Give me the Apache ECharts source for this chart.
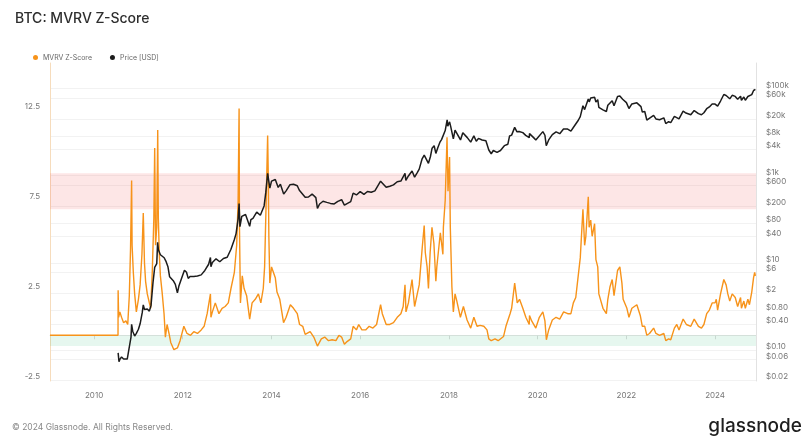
<!DOCTYPE html>
<html><head><meta charset="utf-8">
<script src="https://cdn.jsdelivr.net/npm/echarts@6/dist/echarts.min.js"></script>
<style>html,body{margin:0;padding:0;background:#fff}#c{width:809px;height:444px}</style>
</head><body><div id="c"></div>
<script>
// ---- data ----
const zDates = ['2009-01-03','2010-07-17','2010-07-18','2010-07-22','2010-08-01','2010-08-15','2010-09-01','2010-09-20','2010-10-05','2010-10-18','2010-10-28','2010-11-06','2010-11-10','2010-11-20','2010-12-01','2010-12-15','2011-01-01','2011-01-15','2011-01-30','2011-02-10','2011-02-20','2011-03-01','2011-03-15','2011-04-01','2011-04-12','2011-04-25','2011-05-08','2011-05-15','2011-05-22','2011-06-01','2011-06-09','2011-06-14','2011-06-22','2011-07-01','2011-07-15','2011-07-31','2011-08-11','2011-08-25','2011-09-10','2011-09-24','2011-10-20','2011-11-18','2011-12-10','2012-01-10','2012-02-05','2012-03-05','2012-04-01','2012-05-01','2012-06-01','2012-06-25','2012-07-20','2012-08-16','2012-08-20','2012-09-01','2012-09-25','2012-10-25','2012-11-20','2012-12-15','2013-01-10','2013-02-01','2013-03-01','2013-03-20','2013-04-01','2013-04-09','2013-04-12','2013-04-20','2013-05-05','2013-05-20','2013-06-10','2013-07-05','2013-07-25','2013-08-20','2013-09-15','2013-10-05','2013-10-25','2013-11-05','2013-11-18','2013-11-30','2013-12-05','2013-12-10','2013-12-18','2014-01-01','2014-01-12','2014-02-01','2014-02-15','2014-03-10','2014-04-10','2014-05-01','2014-06-05','2014-07-01','2014-08-01','2014-08-20','2014-09-15','2014-10-05','2014-11-15','2014-12-15','2015-01-14','2015-02-15','2015-03-15','2015-04-15','2015-05-15','2015-06-15','2015-07-10','2015-08-01','2015-08-24','2015-09-15','2015-10-15','2015-11-04','2015-12-01','2015-12-20','2016-01-15','2016-02-15','2016-03-15','2016-04-15','2016-05-15','2016-06-17','2016-07-01','2016-08-02','2016-09-01','2016-10-01','2016-11-01','2016-12-01','2016-12-20','2017-01-04','2017-01-12','2017-02-01','2017-03-03','2017-03-24','2017-04-15','2017-05-01','2017-05-25','2017-06-11','2017-06-20','2017-07-05','2017-07-16','2017-07-30','2017-08-14','2017-08-30','2017-09-15','2017-09-23','2017-10-22','2017-11-12','2017-11-16','2017-12-01','2017-12-16','2017-12-24','2018-01-06','2018-01-12','2018-01-25','2018-02-06','2018-02-20','2018-03-05','2018-04-05','2018-04-30','2018-05-30','2018-06-29','2018-07-25','2018-08-20','2018-09-15','2018-10-15','2018-11-10','2018-11-25','2018-12-15','2019-01-15','2019-02-10','2019-03-26','2019-04-15','2019-05-19','2019-06-01','2019-06-26','2019-07-17','2019-08-05','2019-09-01','2019-09-26','2019-10-24','2019-10-26','2019-11-13','2019-12-17','2020-01-15','2020-02-13','2020-03-01','2020-03-13','2020-04-01','2020-05-01','2020-06-01','2020-07-01','2020-08-02','2020-09-05','2020-10-01','2020-10-21','2020-11-10','2020-11-25','2020-12-17','2021-01-08','2021-01-22','2021-02-01','2021-02-21','2021-02-28','2021-03-13','2021-03-25','2021-04-14','2021-04-25','2021-05-10','2021-05-19','2021-06-01','2021-06-22','2021-07-20','2021-08-01','2021-08-19','2021-09-06','2021-09-21','2021-10-20','2021-11-08','2021-11-25','2021-12-05','2022-01-05','2022-01-22','2022-02-15','2022-03-28','2022-04-25','2022-05-12','2022-06-01','2022-06-18','2022-07-10','2022-08-13','2022-09-01','2022-10-01','2022-11-05','2022-11-21','2022-12-15','2023-01-01','2023-01-31','2023-02-20','2023-03-10','2023-04-13','2023-05-10','2023-06-15','2023-07-13','2023-08-17','2023-09-11','2023-10-01','2023-10-24','2023-11-15','2023-12-08','2024-01-01','2024-01-11','2024-01-22','2024-02-15','2024-03-13','2024-04-01','2024-04-15','2024-05-01','2024-05-21','2024-06-15','2024-07-05','2024-07-29','2024-08-05','2024-08-25','2024-09-06','2024-09-27','2024-10-10','2024-10-29','2024-11-06','2024-11-13','2024-11-22','2024-11-28'];
const zValues = [0,0,2.5,1.0,1.3,1.0,0.7,0.8,0.6,2.2,4.8,8.6,5.0,3.5,2.3,1.3,2.0,2.8,4.5,6.8,4.0,3.0,2.3,1.8,1.5,3.5,6.5,10.4,5.0,6.0,11.4,6.5,4.5,3.3,2.4,1.2,-0.1,0.6,0.1,-0.4,-0.8,-0.7,-0.3,0.5,0.1,0.0,0.2,0.1,0.3,0.5,1.2,2.3,1.0,1.3,1.8,1.2,1.5,1.6,1.8,2.6,3.5,5.0,7.5,12.6,6.0,1.8,3.3,2.6,2.2,0.9,1.8,2.0,2.3,1.8,2.6,3.8,7.5,11.1,9.0,5.5,2.9,3.8,3.9,3.2,2.4,2.0,0.7,1.0,1.7,1.5,1.2,0.6,0.5,0.05,0.2,-0.1,-0.6,-0.2,-0.1,-0.3,-0.25,-0.3,0.0,-0.1,-0.5,-0.35,-0.2,0.5,0.3,0.6,0.3,0.3,0.5,0.4,0.6,1.7,1.2,0.6,0.6,0.7,1.0,1.2,1.6,2.8,1.3,1.8,3.1,1.6,2.3,2.8,4.8,6.1,4.6,3.8,2.6,4.6,6.0,5.1,3.0,3.8,5.7,4.5,6.0,7.5,11.0,8.0,9.9,6.0,2.7,1.3,2.3,1.95,1.0,1.6,0.85,0.4,1.0,0.5,0.55,0.5,0.3,-0.2,-0.3,-0.2,-0.3,-0.07,0.5,1.2,1.5,2.9,1.8,2.0,1.5,1.0,0.6,1.1,0.8,0.4,1.0,1.3,0.8,-0.25,0.3,0.85,1.0,0.9,1.3,1.2,1.2,1.8,2.1,3.0,4.3,7.0,5.0,5.5,7.7,6.0,6.4,5.5,6.2,4.2,3.8,2.3,2.3,1.5,1.2,2.0,2.7,3.1,2.2,3.6,3.8,2.9,2.0,1.5,1.0,1.5,1.7,1.1,0.5,0.5,0.0,0.1,0.4,0.1,0.0,0.1,-0.3,-0.2,-0.25,0.4,0.6,0.3,0.9,0.6,0.5,0.9,0.5,0.4,0.6,1.2,1.4,1.8,1.8,2.0,1.4,2.3,3.1,2.8,2.3,1.9,2.3,2.1,1.6,2.1,1.5,1.9,1.5,2.0,1.7,2.4,2.5,3.2,3.5,3.3];

const priceDates = ['2010-07-18','2010-07-25','2010-08-01','2010-08-15','2010-09-01','2010-09-15','2010-10-01','2010-10-15','2010-11-01','2010-11-06','2010-11-15','2010-12-01','2010-12-15','2011-01-01','2011-01-15','2011-02-01','2011-02-10','2011-02-20','2011-03-01','2011-03-15','2011-04-01','2011-04-15','2011-05-01','2011-05-15','2011-06-01','2011-06-08','2011-06-15','2011-07-01','2011-07-15','2011-08-01','2011-08-15','2011-09-01','2011-09-15','2011-10-01','2011-10-15','2011-11-01','2011-11-18','2011-12-01','2011-12-15','2012-01-01','2012-01-15','2012-02-01','2012-02-15','2012-03-01','2012-04-01','2012-05-01','2012-06-01','2012-07-01','2012-08-01','2012-08-16','2012-08-20','2012-09-01','2012-10-01','2012-11-01','2012-12-01','2013-01-01','2013-02-01','2013-03-01','2013-03-15','2013-04-01','2013-04-09','2013-04-16','2013-05-01','2013-06-01','2013-07-05','2013-07-15','2013-08-01','2013-09-01','2013-10-01','2013-10-15','2013-11-01','2013-11-15','2013-11-30','2013-12-18','2014-01-01','2014-01-15','2014-02-01','2014-02-25','2014-03-15','2014-04-11','2014-05-01','2014-06-01','2014-07-01','2014-08-01','2014-08-18','2014-09-01','2014-10-05','2014-11-01','2014-12-01','2015-01-01','2015-01-14','2015-02-01','2015-03-01','2015-04-01','2015-05-01','2015-06-01','2015-07-01','2015-08-01','2015-08-24','2015-09-15','2015-10-15','2015-11-04','2015-12-01','2016-01-01','2016-02-01','2016-03-01','2016-04-01','2016-05-01','2016-06-17','2016-07-01','2016-08-02','2016-09-01','2016-10-01','2016-11-01','2016-12-01','2017-01-04','2017-01-11','2017-02-01','2017-03-03','2017-03-24','2017-04-15','2017-05-01','2017-05-25','2017-06-11','2017-07-16','2017-08-01','2017-08-15','2017-09-01','2017-09-15','2017-10-01','2017-10-20','2017-11-01','2017-11-15','2017-12-01','2017-12-17','2017-12-22','2018-01-06','2018-01-15','2018-02-06','2018-02-20','2018-03-05','2018-04-06','2018-04-25','2018-05-05','2018-06-01','2018-06-29','2018-07-25','2018-08-14','2018-09-01','2018-10-01','2018-11-01','2018-11-25','2018-12-15','2019-01-01','2019-02-01','2019-03-01','2019-04-02','2019-05-01','2019-05-15','2019-06-01','2019-06-26','2019-07-15','2019-08-01','2019-09-01','2019-09-25','2019-10-24','2019-10-26','2019-11-01','2019-12-01','2019-12-17','2020-01-01','2020-02-13','2020-03-01','2020-03-12','2020-04-01','2020-05-01','2020-06-01','2020-07-01','2020-08-01','2020-09-01','2020-10-01','2020-10-21','2020-11-01','2020-12-01','2020-12-17','2021-01-08','2021-01-22','2021-02-01','2021-02-21','2021-03-01','2021-03-13','2021-04-14','2021-04-25','2021-05-10','2021-05-19','2021-06-01','2021-06-22','2021-07-20','2021-08-01','2021-09-06','2021-09-21','2021-10-20','2021-11-08','2021-12-01','2022-01-01','2022-01-22','2022-02-15','2022-03-28','2022-05-01','2022-05-12','2022-06-01','2022-06-18','2022-07-01','2022-08-13','2022-09-01','2022-10-01','2022-11-05','2022-11-21','2022-12-15','2023-01-01','2023-01-31','2023-03-10','2023-04-13','2023-05-01','2023-06-15','2023-07-13','2023-08-17','2023-09-11','2023-10-01','2023-10-24','2023-11-15','2023-12-08','2024-01-01','2024-01-11','2024-01-22','2024-02-15','2024-03-13','2024-04-01','2024-05-01','2024-05-21','2024-06-15','2024-07-05','2024-07-29','2024-08-05','2024-08-25','2024-09-06','2024-09-27','2024-10-10','2024-10-29','2024-11-06','2024-11-13','2024-11-22','2024-11-28'];
const priceValues = [0.086,0.054,0.061,0.069,0.062,0.062,0.062,0.105,0.197,0.39,0.27,0.21,0.24,0.30,0.40,0.71,1.09,0.85,0.92,0.87,0.78,1.07,3.5,7.9,9.6,29.6,19.7,15.4,13.9,13.1,11.0,8.2,4.8,5.0,3.9,3.2,2.05,3.0,3.2,5.3,6.8,6.1,4.4,4.9,4.9,5.0,5.3,6.7,9.3,13.3,8.2,10.2,12.4,10.6,12.6,13.5,20.5,34.5,47,104,230,68,117,129,69,98,105,146,124,155,203,420,1130,520,750,820,820,540,640,380,450,620,640,590,465,475,320,325,380,315,178,225,260,245,232,225,258,282,211,230,255,400,362,433,373,435,417,450,750,675,545,573,616,730,755,1130,780,990,1280,930,1180,1420,2450,2960,1930,2730,4300,4890,3250,4400,6000,6750,7300,10900,19100,13800,17200,13600,7000,11200,11500,6630,9700,9800,7500,5900,8200,6200,7200,6600,6350,3900,3200,3800,3450,3800,4900,5300,8200,8550,12900,10200,10400,9760,8440,7450,9250,9150,7400,6640,7200,10300,8500,4900,6640,8800,10200,9230,11800,11900,10600,12800,13750,18800,22800,40500,33000,33500,57500,49600,61200,63500,49000,56000,37000,36600,32500,29800,41500,52700,40600,66000,67500,57000,47700,35000,44500,47100,38500,29000,29800,19000,19300,24400,20100,19300,21300,15800,17400,16600,23100,20200,30400,28000,25100,31400,26600,25100,27900,34500,37900,44200,44200,46300,39500,51900,73100,69700,58300,70100,66200,56700,66800,54000,64200,53900,65800,60500,72700,75600,90400,98900,95600];

const yearTicks = ['2010-01-01','2012-01-01','2014-01-01','2016-01-01','2018-01-01','2020-01-01','2022-01-01','2024-01-01'];
const zTicks = [-2.5, 2.5, 7.5, 12.5];
const priceTicks = [0.02,0.06,0.1,0.4,0.8,2,6,10,40,80,200,600,1000,4000,8000,20000,60000,100000];
const redBand = [7, 9];
const greenBand = [-0.6, 0];

// ---- chart ----
const font = 'Inter, "Noto Sans", sans-serif';
const chart = echarts.init(document.getElementById('c'), null, {renderer: 'canvas'});
const ts = d => Date.parse(d + 'T00:00:00Z');
const zData = zDates.map((d, i) => [ts(d), zValues[i]]);
const pData = priceDates.map((d, i) => [ts(d), priceValues[i]]);
const yearTickTs = yearTicks.map(ts);
function fmtPrice(v) {
  if (v >= 1000) return '$' + Math.round(v / 1000) + 'k';
  if (v >= 1) return '$' + Math.round(v);
  return '$' + v.toFixed(2);
}
chart.setOption({
  animation: false,
  textStyle: {fontFamily: font},
  title: {text: 'BTC: MVRV Z-Score', left: 10, top: 7,
    textStyle: {fontSize: 14, fontWeight: 500, color: '#2e2e2e', fontFamily: font}},
  legend: {left: 28, top: 49, icon: 'circle', itemWidth: 5, itemHeight: 5, itemGap: 18,
    textStyle: {fontSize: 7, color: '#666', fontFamily: font},
    data: ['MVRV Z-Score', 'Price [USD]']},
  grid: {left: 50, right: 53, top: 63, bottom: 63},
  xAxis: {type: 'value', min: ts('2009-01-03'), max: ts('2024-12-03'),
    axisLine: {show: true, lineStyle: {color: '#e4e4e4'}},
    axisTick: {show: true, customValues: yearTickTs, length: 4, lineStyle: {color: '#dcdcdc'}},
    axisLabel: {customValues: yearTickTs, formatter: v => String(new Date(v).getUTCFullYear()),
      fontSize: 8, color: '#777', margin: 11, fontFamily: font},
    splitLine: {show: false}},
  yAxis: [
    {type: 'value', position: 'left', min: -2.54, max: 15.13,
      axisLine: {show: true, lineStyle: {color: '#f6dcbc'}},
      axisTick: {show: false}, splitLine: {show: false},
      axisLabel: {customValues: zTicks, formatter: v => String(v), fontSize: 8, color: '#777',
        margin: 10, verticalAlign: 'bottom', lineHeight: 7, fontFamily: font}},
    {type: 'log', logBase: 10, position: 'right', min: 0.01945, max: 387000,
      axisLine: {show: true, lineStyle: {color: '#e2e2e2'}},
      axisTick: {show: false, customValues: priceTicks},
      splitLine: {show: true, lineStyle: {color: '#f2f2f2', width: 1}},
      axisLabel: {customValues: priceTicks, formatter: fmtPrice, fontSize: 8, color: '#777',
        margin: 10, verticalAlign: 'bottom', lineHeight: 7, fontFamily: font}}
  ],
  series: [
    {name: 'MVRV Z-Score', type: 'line', yAxisIndex: 0, data: zData, showSymbol: false, symbol: 'none',
      lineStyle: {color: '#f7931a', width: 1.4}, itemStyle: {color: '#f7931a'},
      markArea: {silent: true, data: [
        [{yAxis: redBand[0], itemStyle: {color: 'rgba(240,90,90,0.15)'}}, {yAxis: redBand[1]}],
        [{yAxis: greenBand[0], itemStyle: {color: 'rgba(60,190,130,0.13)'}}, {yAxis: greenBand[1]}]
      ]}},
    {name: 'Price [USD]', type: 'line', yAxisIndex: 1, data: pData, showSymbol: false, symbol: 'none',
      lineStyle: {color: '#1c1c1c', width: 1.5}, itemStyle: {color: '#1c1c1c'}}
  ],
  graphic: [
    {type: 'text', left: 12, top: 423, style: {text: '© 2024 Glassnode. All Rights Reserved.', fontSize: 8.5, fill: '#888', fontFamily: font}},
    {type: 'text', right: 7, top: 417, style: {text: 'glassnode', fontSize: 19, fontWeight: 500, fill: '#1e1e1e', fontFamily: font}}
  ]
});
</script>
</body></html>
